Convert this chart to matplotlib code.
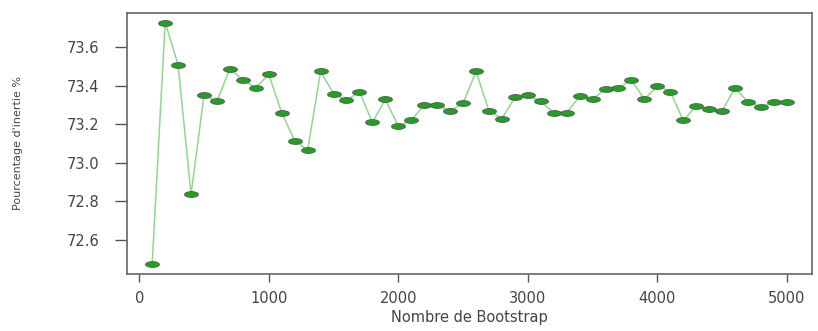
import matplotlib
matplotlib.use("Agg")
import matplotlib.pyplot as plt
from matplotlib.path import Path
from matplotlib.transforms import Affine2D

# number of bootstrap samples
n_boot = list(range(100, 5001, 100))

# inertia percentage
inertie = [72.47, 73.73, 73.51, 72.835, 73.35, 73.32, 73.49, 73.43, 73.39, 73.46,
           73.26, 73.115, 73.065, 73.475, 73.36, 73.325, 73.37, 73.21, 73.33, 73.19,
           73.22, 73.30, 73.30, 73.27, 73.31, 73.475, 73.27, 73.23, 73.34, 73.35,
           73.32, 73.26, 73.26, 73.345, 73.33, 73.385, 73.39, 73.43, 73.33, 73.40,
           73.37, 73.22, 73.295, 73.28, 73.27, 73.39, 73.315, 73.29, 73.315, 73.315]

yticks = [72.6, 72.8, 73.0, 73.2, 73.4, 73.6]
xticks = [0, 1000, 2000, 3000, 4000, 5000]

# flattened ellipse marker
ellipse = Path.unit_circle().transformed(Affine2D().scale(1, 0.42))

fig = plt.figure(figsize=(8.18, 3.31), dpi=100)
ax = fig.add_axes([0.155, 0.172, 0.838, 0.789])

ax.plot(n_boot, inertie, color='#8fd88f', linewidth=1.1, zorder=2)
ax.plot(n_boot, inertie, linestyle='none', marker=ellipse, markersize=10,
        markerfacecolor='#1fa21f', markeredgecolor='#555555', markeredgewidth=0.6, zorder=3)

ax.set_xlim(-96, 5196)
ax.set_ylim(72.42, 73.78)
ax.set_xticks(xticks)
ax.set_yticks(yticks)
ax.set_yticklabels([f'{v:.1f}' for v in yticks])

ax.tick_params(axis='y', length=9, width=1, color='#555555', labelsize=10.5,
               labelcolor='#444444', pad=11)
ax.tick_params(axis='x', length=6, width=1, color='#555555', labelsize=10.5,
               labelcolor='#444444', pad=6)

for s in ax.spines.values():
    s.set_color('#666666')
    s.set_linewidth(1.2)

ax.set_xlabel('Nombre de Bootstrap', fontsize=10.5, color='#444444', labelpad=3)
ax.set_ylabel("Pourcentage d'inertie %", fontsize=8, color='#444444')
ax.yaxis.set_label_coords(-0.152, 0.5)

fig.savefig('out.png', dpi=100)
